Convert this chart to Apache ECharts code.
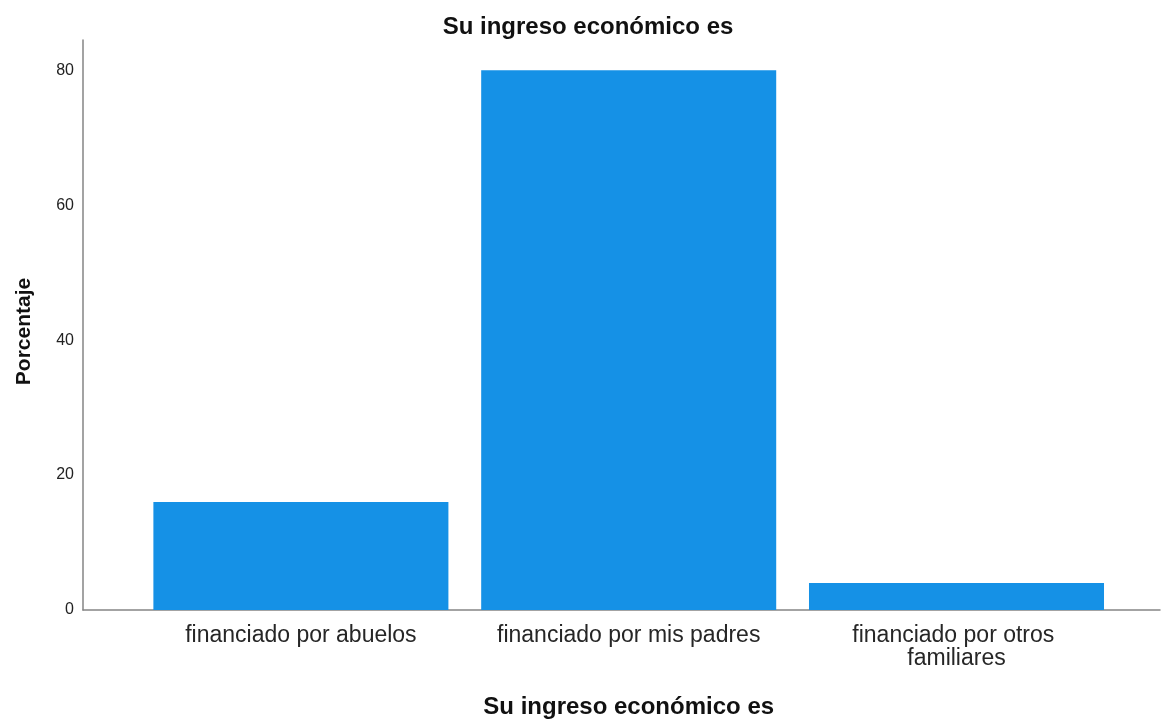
<!DOCTYPE html>
<html>
<head>
<meta charset="utf-8">
<script src="https://cdn.jsdelivr.net/npm/echarts@6/dist/echarts.min.js"></script>
<style>
html,body{margin:0;padding:0;background:#fff;}
#chart{width:1164px;height:720px;}
</style>
</head>
<body>
<div id="chart"></div>
<script>
const chartTitle = 'Su ingreso económico es';
const xAxisTitle = 'Su ingreso económico es';
const yAxisTitle = 'Porcentaje';
const categories = ['financiado por abuelos', 'financiado por mis padres', 'financiado por otros familiares'];
const percentages = [16, 80, 4];
const yTicks = [0, 20, 40, 60, 80];

const yMin = 0, yMax = 84.5, yStep = yTicks[1] - yTicks[0];
const fontFam = '"Liberation Sans", Arial, sans-serif';
const axisGray = '#858585';

const chart = echarts.init(document.getElementById('chart'), null, {renderer: 'canvas'});
chart.setOption({
  backgroundColor: '#ffffff',
  animation: false,
  title: {
    text: chartTitle,
    left: 583,
    textAlign: 'center',
    top: 10,
    textStyle: {fontFamily: fontFam, fontSize: 24, fontWeight: 'bold', color: '#111'}
  },
  grid: [
    {left: 137, right: 43.6, top: 40, bottom: 110, containLabel: false, outerBoundsMode: 'none'},
    {left: 83, right: 4, top: 40, bottom: 110, containLabel: false, outerBoundsMode: 'none'}
  ],
  xAxis: [
    {
      type: 'category', gridIndex: 0, data: categories,
      axisLine: {show: false}, axisTick: {show: false},
      axisLabel: {
        fontFamily: fontFam, fontSize: 23, color: '#262626', margin: 14,
        lineHeight: 23, width: 290, overflow: 'break', interval: 0, align: 'center'
      },
      name: xAxisTitle, nameLocation: 'middle', nameGap: 85,
      nameTextStyle: {fontFamily: fontFam, fontSize: 24, fontWeight: 'bold', color: '#111'}
    },
    {
      type: 'value', gridIndex: 1, min: 0, max: 1,
      axisLine: {show: true, lineStyle: {color: axisGray, width: 1.5}},
      axisTick: {show: false}, axisLabel: {show: false}, splitLine: {show: false}
    }
  ],
  yAxis: [
    {
      type: 'value', gridIndex: 0, min: yMin, max: yMax, interval: yStep,
      show: false, splitLine: {show: false}
    },
    {
      type: 'value', gridIndex: 1, min: yMin, max: yMax, interval: yStep,
      axisLine: {show: true, lineStyle: {color: axisGray, width: 1.5}},
      axisTick: {show: false},
      splitLine: {show: false},
      axisLabel: {
        fontFamily: fontFam, fontSize: 16, color: '#222', margin: 9,
        showMaxLabel: false, padding: [6, 0, 0, 0],
        formatter: v => (yTicks.indexOf(v) >= 0 ? String(v) : '')
      },
      name: yAxisTitle, nameLocation: 'middle', nameGap: 48, nameRotate: 90,
      nameTextStyle: {fontFamily: fontFam, fontSize: 21, fontWeight: 'bold', color: '#111', padding: [0, 13, 0, 0]}
    }
  ],
  series: [{
    type: 'bar',
    xAxisIndex: 0, yAxisIndex: 0,
    data: percentages,
    barCategoryGap: '10%',
    itemStyle: {color: '#1591E6'},
    silent: true
  }]
});
</script>
</body>
</html>
